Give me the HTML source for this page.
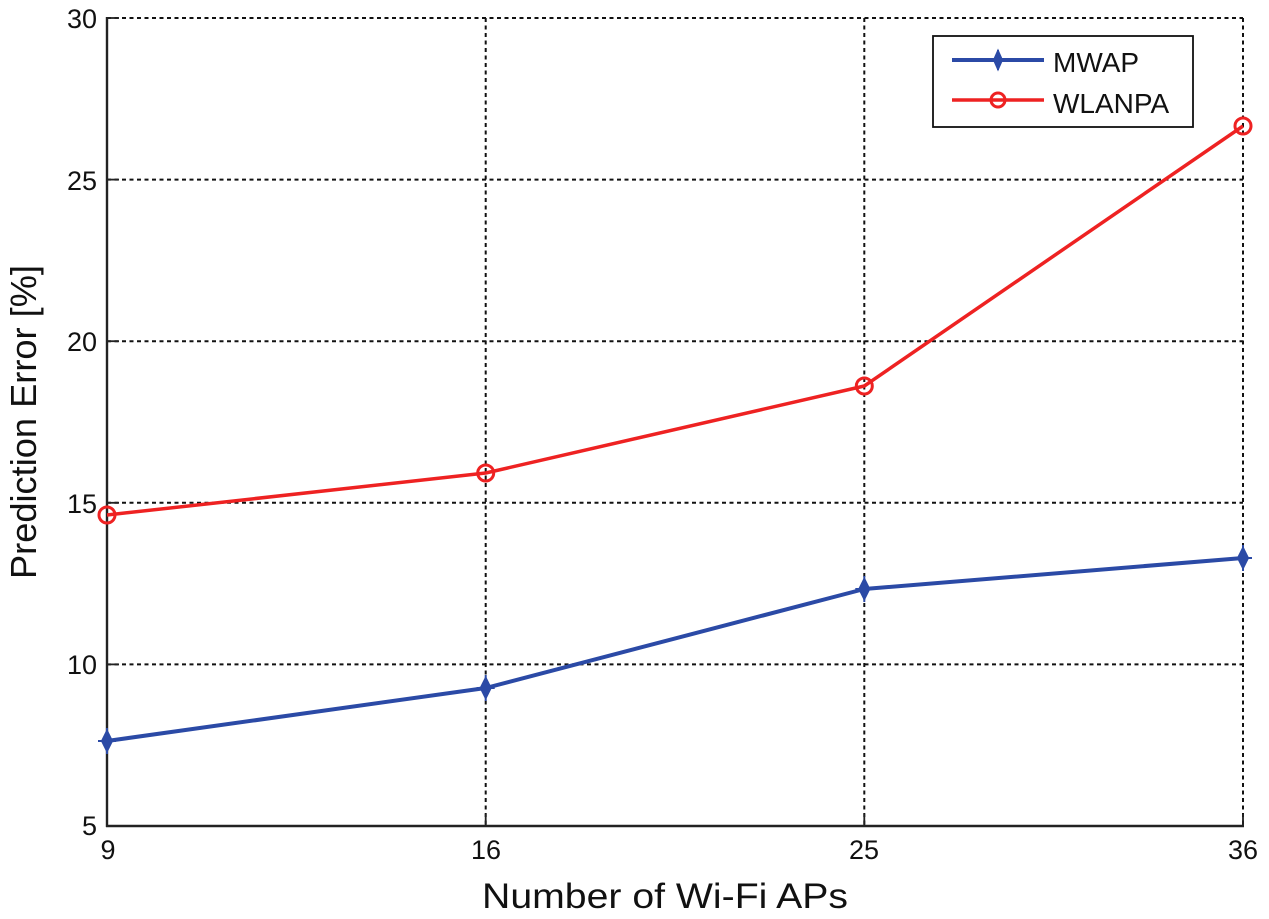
<!DOCTYPE html>
<html>
<head>
<meta charset="utf-8">
<style>
  html,body{margin:0;padding:0;background:#fff;}
  svg{display:block;}
  text{font-family:"Liberation Sans",Arial,sans-serif;fill:#111;}
</style>
</head>
<body>
<svg width="1269" height="919" viewBox="0 0 1269 919" xmlns="http://www.w3.org/2000/svg">
  <rect x="0" y="0" width="1269" height="919" fill="#fff"/>

  <!-- grid (dotted) -->
  <g stroke="#111" stroke-width="2" stroke-dasharray="4,3.5" fill="none">
    <line x1="107" y1="18" x2="1243" y2="18"/>
    <line x1="107" y1="179.6" x2="1243" y2="179.6"/>
    <line x1="107" y1="341.2" x2="1243" y2="341.2"/>
    <line x1="107" y1="502.8" x2="1243" y2="502.8"/>
    <line x1="107" y1="664.4" x2="1243" y2="664.4"/>
    <line x1="485.7" y1="18" x2="485.7" y2="826"/>
    <line x1="864.3" y1="18" x2="864.3" y2="826"/>
    <line x1="1243" y1="18" x2="1243" y2="826"/>
  </g>

  <!-- ticks -->
  <g stroke="#222" stroke-width="1.8">
    <line x1="107" y1="18" x2="119" y2="18"/>
    <line x1="107" y1="179.6" x2="119" y2="179.6"/>
    <line x1="107" y1="341.2" x2="119" y2="341.2"/>
    <line x1="107" y1="502.8" x2="119" y2="502.8"/>
    <line x1="107" y1="664.4" x2="119" y2="664.4"/>
    <line x1="485.7" y1="826" x2="485.7" y2="814"/>
    <line x1="864.3" y1="826" x2="864.3" y2="814"/>
    <line x1="1243" y1="826" x2="1243" y2="814"/>
  </g>

  <!-- axes -->
  <g stroke="#222" stroke-width="2.4" fill="none">
    <line x1="107" y1="17" x2="107" y2="827"/>
    <line x1="106" y1="826" x2="1244" y2="826"/>
  </g>

  <!-- y tick labels -->
  <g font-size="27" text-anchor="end">
    <text x="97" y="28">30</text>
    <text x="97" y="190">25</text>
    <text x="97" y="351">20</text>
    <text x="97" y="513">15</text>
    <text x="97" y="674">10</text>
    <text x="97" y="835">5</text>
  </g>

  <!-- x tick labels -->
  <g font-size="27" text-anchor="middle">
    <text x="108" y="859">9</text>
    <text x="486" y="859">16</text>
    <text x="864" y="859">25</text>
    <text x="1243" y="859">36</text>
  </g>

  <!-- axis labels -->
  <text x="482" y="908" font-size="35" textLength="366" lengthAdjust="spacingAndGlyphs">Number of Wi-Fi  APs</text>
  <text transform="translate(36,579) rotate(-90)" font-size="36" textLength="314" lengthAdjust="spacingAndGlyphs">Prediction Error [%]</text>

  <!-- WLANPA series -->
  <polyline points="107,515 485.7,473 864.3,386 1243,126" fill="none" stroke="#ee2222" stroke-width="3.5" stroke-linejoin="round"/>
  <g fill="none" stroke="#ee2222" stroke-width="3">
    <circle cx="107" cy="515" r="8"/>
    <circle cx="485.7" cy="473" r="8"/>
    <circle cx="864.3" cy="386" r="8"/>
    <circle cx="1243" cy="126" r="8"/>
  </g>

  <!-- MWAP series -->
  <polyline points="107,741 485.7,688 864.3,589 1243,558" fill="none" stroke="#2b4aa6" stroke-width="4" stroke-linejoin="round"/>
  <g fill="#2b4aa6" stroke="#2b4aa6" stroke-width="2">
    <path d="M107,731 L112,741 L107,751 L102,741 Z"/>
    <line x1="107" y1="728" x2="107" y2="754"/>
    <line x1="98" y1="741" x2="116" y2="741"/>
    <path d="M485.7,678 L490.7,688 L485.7,698 L480.7,688 Z"/>
    <line x1="485.7" y1="675" x2="485.7" y2="701"/>
    <line x1="476.7" y1="688" x2="494.7" y2="688"/>
    <path d="M864.3,579 L869.3,589 L864.3,599 L859.3,589 Z"/>
    <line x1="864.3" y1="576" x2="864.3" y2="602"/>
    <line x1="855.3" y1="589" x2="873.3" y2="589"/>
    <path d="M1243,548 L1248,558 L1243,568 L1238,558 Z"/>
    <line x1="1243" y1="545" x2="1243" y2="571"/>
    <line x1="1234" y1="558" x2="1252" y2="558"/>
  </g>

  <!-- legend -->
  <rect x="933" y="36" width="260" height="91" fill="#fff" stroke="#111" stroke-width="1.8"/>
  <line x1="952" y1="60" x2="1044" y2="60" stroke="#2b4aa6" stroke-width="4"/>
  <g fill="#2b4aa6" stroke="#2b4aa6" stroke-width="2">
    <path d="M998,51 L1002,60 L998,69 L994,60 Z"/>
    <line x1="998" y1="50" x2="998" y2="70"/>
  </g>
  <line x1="952" y1="100" x2="1044" y2="100" stroke="#ee2222" stroke-width="3.5"/>
  <circle cx="998" cy="100" r="7" fill="none" stroke="#ee2222" stroke-width="3"/>
  <text x="1053" y="72" font-size="28">MWAP</text>
  <text x="1053" y="113" font-size="28">WLANPA</text>
</svg>
</body>
</html>
